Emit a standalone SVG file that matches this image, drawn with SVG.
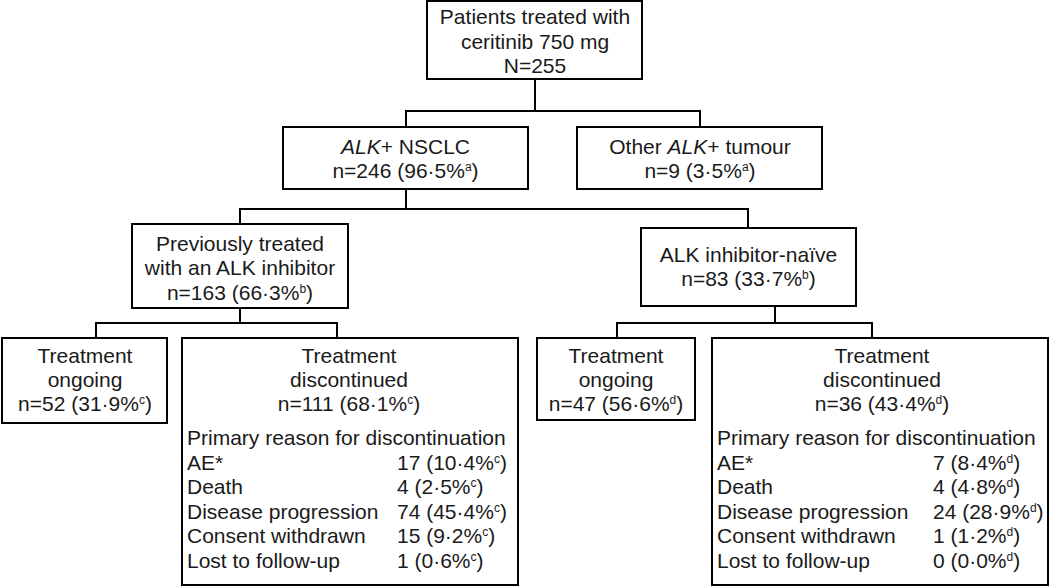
<svg xmlns="http://www.w3.org/2000/svg" width="1050" height="587" viewBox="0 0 1050 587">
<style>
.box{fill:#fff;stroke:#000;stroke-width:2}
.ln{fill:none;stroke:#000;stroke-width:2}
text{font-family:"Liberation Sans",Arial,sans-serif;font-size:21px;fill:#1a1a1a}
.c{text-anchor:middle}
.it{font-style:italic}
.sup{font-size:12px}
</style>
<rect width="1050" height="587" fill="#fff"/>
<g id="connectors">
<path class="ln" d="M535,79V111M406,111H700M406,110V127M700,110V127"/>
<path class="ln" d="M406,189V209M240,209H748M240,208V224M748,208V228"/>
<path class="ln" d="M240,308V323M96,323H337M96,322V338M337,322V338"/>
<path class="ln" d="M775,306V323M617,323H872M617,322V338M872,322V338"/>
</g>
<g id="n-all">
<rect class="box" x="427" y="1" width="215" height="78"/>
<text class="c" x="535" y="24">Patients treated with</text>
<text class="c" x="535" y="48.5">ceritinib 750 mg</text>
<text class="c" x="535" y="73">N=255</text>
</g>
<g id="n-nsclc">
<rect class="box" x="283" y="127" width="245" height="62"/>
<text class="c" x="405.5" y="153.5"><tspan class="it">ALK</tspan>+ NSCLC</text>
<text class="c" x="405.5" y="177.5">n=246 (96·5%<tspan class="sup" dy="-7">a</tspan><tspan dy="7">)</tspan></text>
</g>
<g id="n-other">
<rect class="box" x="577" y="127" width="245" height="62"/>
<text class="c" x="700" y="153.5">Other <tspan class="it">ALK</tspan>+ tumour</text>
<text class="c" x="700" y="177.5">n=9 (3·5%<tspan class="sup" dy="-7">a</tspan><tspan dy="7">)</tspan></text>
</g>
<g id="n-prev">
<rect class="box" x="132" y="224" width="216" height="84"/>
<text class="c" x="240" y="250.5">Previously treated</text>
<text class="c" x="240" y="275">with an ALK inhibitor</text>
<text class="c" x="240" y="299.5">n=163 (66·3%<tspan class="sup" dy="-7">b</tspan><tspan dy="7">)</tspan></text>
</g>
<g id="n-naive">
<rect class="box" x="641" y="228" width="215" height="78"/>
<text class="c" x="748.5" y="261.5">ALK inhibitor-naïve</text>
<text class="c" x="748.5" y="285.5">n=83 (33·7%<tspan class="sup" dy="-7">b</tspan><tspan dy="7">)</tspan></text>
</g>
<g id="n-ongoing1">
<rect class="box" x="2" y="338" width="165" height="85"/>
<text class="c" x="85" y="363">Treatment</text>
<text class="c" x="85" y="387">ongoing</text>
<text class="c" x="85" y="411">n=52 (31·9%<tspan class="sup" dy="-7">c</tspan><tspan dy="7">)</tspan></text>
</g>
<g id="n-disc1">
<rect class="box" x="182" y="338" width="336" height="247"/>
<text class="c" x="349" y="363">Treatment</text>
<text class="c" x="349" y="387">discontinued</text>
<text class="c" x="349" y="411">n=111 (68·1%<tspan class="sup" dy="-7">c</tspan><tspan dy="7">)</tspan></text>
<text x="187" y="445">Primary reason for discontinuation</text>
<text x="187" y="469.5">AE*</text>
<text x="187" y="494">Death</text>
<text x="187" y="518.5">Disease progression</text>
<text x="187" y="543">Consent withdrawn</text>
<text x="187" y="567.5">Lost to follow-up</text>
<text x="397" y="469.5">17 (10·4%<tspan class="sup" dy="-7">c</tspan><tspan dy="7">)</tspan></text>
<text x="397" y="494">4 (2·5%<tspan class="sup" dy="-7">c</tspan><tspan dy="7">)</tspan></text>
<text x="397" y="518.5">74 (45·4%<tspan class="sup" dy="-7">c</tspan><tspan dy="7">)</tspan></text>
<text x="397" y="543">15 (9·2%<tspan class="sup" dy="-7">c</tspan><tspan dy="7">)</tspan></text>
<text x="397" y="567.5">1 (0·6%<tspan class="sup" dy="-7">c</tspan><tspan dy="7">)</tspan></text>
</g>
<g id="n-ongoing2">
<rect class="box" x="537" y="338" width="158" height="82"/>
<text class="c" x="616" y="363">Treatment</text>
<text class="c" x="616" y="387">ongoing</text>
<text class="c" x="616" y="411">n=47 (56·6%<tspan class="sup" dy="-7">d</tspan><tspan dy="7">)</tspan></text>
</g>
<g id="n-disc2">
<rect class="box" x="712" y="338" width="336" height="247"/>
<text class="c" x="882" y="363">Treatment</text>
<text class="c" x="882" y="387">discontinued</text>
<text class="c" x="882" y="411">n=36 (43·4%<tspan class="sup" dy="-7">d</tspan><tspan dy="7">)</tspan></text>
<text x="717" y="445">Primary reason for discontinuation</text>
<text x="717" y="469.5">AE*</text>
<text x="717" y="494">Death</text>
<text x="717" y="518.5">Disease progression</text>
<text x="717" y="543">Consent withdrawn</text>
<text x="717" y="567.5">Lost to follow-up</text>
<text x="933" y="469.5">7 (8·4%<tspan class="sup" dy="-7">d</tspan><tspan dy="7">)</tspan></text>
<text x="933" y="494">4 (4·8%<tspan class="sup" dy="-7">d</tspan><tspan dy="7">)</tspan></text>
<text x="933" y="518.5">24 (28·9%<tspan class="sup" dy="-7">d</tspan><tspan dy="7">)</tspan></text>
<text x="933" y="543">1 (1·2%<tspan class="sup" dy="-7">d</tspan><tspan dy="7">)</tspan></text>
<text x="933" y="567.5">0 (0·0%<tspan class="sup" dy="-7">d</tspan><tspan dy="7">)</tspan></text>
</g>
</svg>
